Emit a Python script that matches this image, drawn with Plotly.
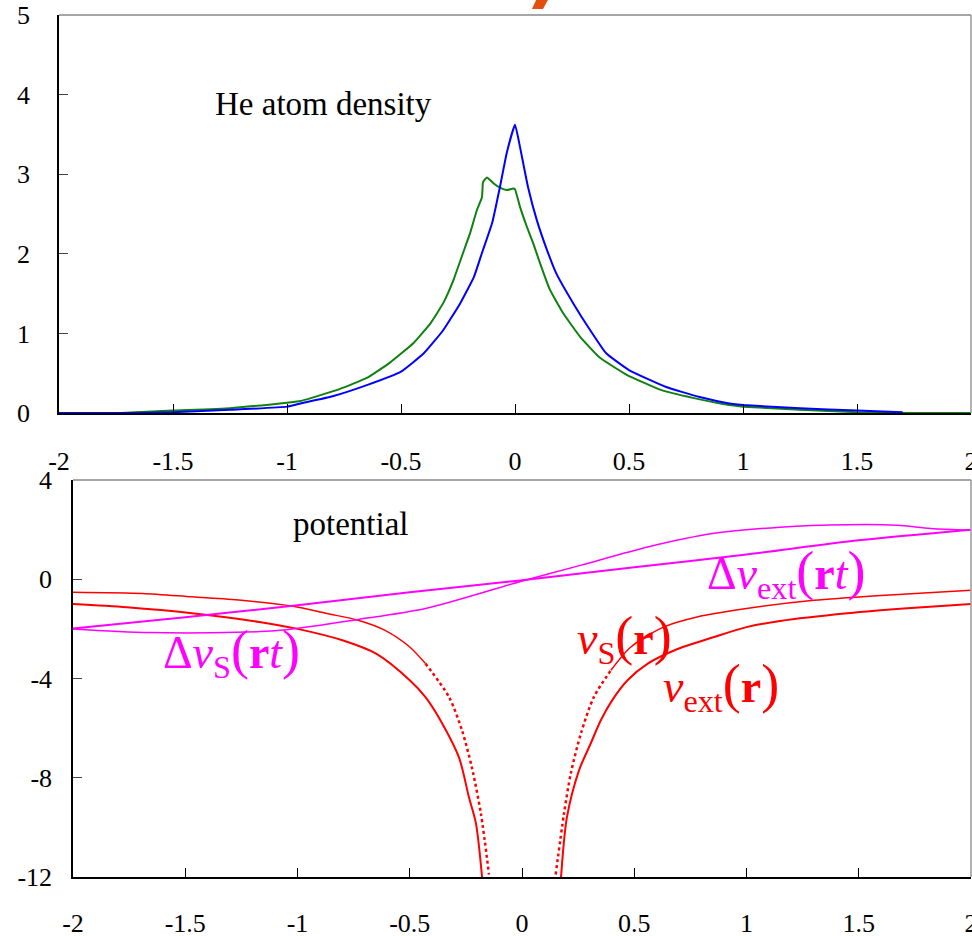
import plotly.graph_objects as go

W, H = 972, 936

# ---------------- top panel: He atom density ----------------
blue_x = [-2.0, -1.7, -1.5, -1.25, -1.0, -0.94, -0.8, -0.65, -0.5, -0.4, -0.315, -0.24, -0.18, -0.145,
          -0.1, -0.066, -0.036, 0.0, 0.022, 0.057, 0.096, 0.14, 0.18, 0.255, 0.33, 0.40, 0.50, 0.66,
          0.81, 0.94, 1.0, 1.25, 1.5, 1.7]
blue_y = [0.0, 0.0, 0.01, 0.04, 0.08, 0.12, 0.21, 0.35, 0.52, 0.75, 1.04, 1.38, 1.71, 2.01,
          2.39, 2.84, 3.27, 3.62, 3.34, 2.84, 2.42, 2.05, 1.76, 1.38, 1.04, 0.75, 0.54, 0.33,
          0.20, 0.12, 0.10, 0.06, 0.03, 0.01]

green_x = [-2.0, -1.73, -1.5, -1.25, -1.0, -0.94, -0.77, -0.65, -0.55, -0.445, -0.37, -0.315, -0.27,
           -0.228, -0.197, -0.167, -0.145, -0.14, -0.123, -0.096, -0.066, -0.036, -0.008, 0.0, 0.022,
           0.052, 0.08, 0.11, 0.153, 0.21, 0.285, 0.37, 0.49, 0.64, 0.78, 0.94, 1.0, 1.25, 1.5,
           1.75, 2.0]
green_y = [0.0, 0.0, 0.03, 0.06, 0.13, 0.15, 0.30, 0.44, 0.63, 0.88, 1.13, 1.38, 1.67,
           2.01, 2.26, 2.55, 2.71, 2.90, 2.96, 2.89, 2.83, 2.80, 2.82, 2.81, 2.59,
           2.34, 2.13, 1.88, 1.55, 1.26, 0.96, 0.70, 0.48, 0.29, 0.19, 0.10, 0.08, 0.04, 0.01,
           0.0, 0.0]

# ---------------- bottom panel: potentials ----------------
vext_left_x = [-2.0, -1.76, -1.47, -1.17, -1.0, -0.80, -0.65, -0.50, -0.43, -0.356, -0.28, -0.236, -0.205, -0.178]
vext_left_y = [-1.0, -1.13, -1.37, -1.72, -2.0, -2.46, -3.0, -4.07, -4.75, -5.8, -7.2, -8.8, -9.85, -12.0]
vext_right_x = [0.174, 0.20, 0.254, 0.307, 0.35, 0.40, 0.47, 0.56, 0.68, 0.855, 1.0, 1.15, 1.45, 1.75, 2.0]
vext_right_y = [-12.0, -9.6, -7.7, -6.6, -5.7, -4.9, -4.07, -3.4, -2.86, -2.33, -1.93, -1.68, -1.37, -1.15, -1.0]

vs_left_x = [-2.0, -1.69, -1.47, -1.25, -1.02, -0.87, -0.73, -0.61, -0.50, -0.43, -0.325, -0.267, -0.223, -0.183, -0.147]
vs_left_y = [-0.52, -0.57, -0.71, -0.85, -1.09, -1.38, -1.65, -2.06, -2.73, -3.4, -4.75, -6.1, -7.6, -9.45, -11.9]
vs_right_x = [0.15, 0.187, 0.218, 0.263, 0.32, 0.396, 0.485, 0.63, 0.78, 1.0, 1.30, 1.60, 2.0]
vs_right_y = [-11.9, -9.45, -7.8, -6.2, -4.75, -3.67, -2.73, -1.93, -1.52, -1.18, -0.85, -0.65, -0.44]

dvext_x = [-2.0, -1.5, -1.0, -0.5, 0.0, 0.5, 1.0, 1.5, 2.0]
dvext_y = [-1.98, -1.53, -1.05, -0.52, -0.04, 0.48, 1.0, 1.57, 2.0]

dvs_x = [-2.0, -1.66, -1.1, -0.73, -0.43, -0.01, 0.26, 0.56, 0.855, 1.15, 1.45, 1.67, 1.82, 2.0]
dvs_y = [-2.0, -2.15, -2.08, -1.62, -1.18, -0.1, 0.56, 1.3, 1.85, 2.1, 2.2, 2.18, 2.05, 1.98]

x_ticks = [-2, -1.5, -1, -0.5, 0, 0.5, 1, 1.5, 2]
x_tick_text = ["-2", "-1.5", "-1", "-0.5", "0", "0.5", "1", "1.5", "2"]
top_y_ticks = [0, 1, 2, 3, 4, 5]
top_y_text = ["0", "1", "2", "3", "4", "5"]
bot_y_ticks = [-12, -8, -4, 0, 4]
bot_y_text = ["-12", "-8", "-4", "0", "4"]

RED = "#FF0000"
MAG = "#FF00FF"
SERIF = "Liberation Serif, Times New Roman, serif"

fig = go.Figure()

fig.add_trace(go.Scatter(x=green_x, y=green_y, mode="lines",
                         line=dict(color="#108010", width=2, shape="spline", smoothing=0.4),
                         xaxis="x", yaxis="y", showlegend=False))
fig.add_trace(go.Scatter(x=blue_x, y=blue_y, mode="lines",
                         line=dict(color="#0000FF", width=2, shape="spline", smoothing=0.4),
                         xaxis="x", yaxis="y", showlegend=False))

# split v_S: outer part solid (noisy), inner steep part dotted
def split(xs, ys, cond):
    a = [(x, y) for x, y in zip(xs, ys) if cond(x)]
    return [p[0] for p in a], [p[1] for p in a]

vsl_out = split(vs_left_x, vs_left_y, lambda x: x <= -0.43)
vsl_in = split(vs_left_x, vs_left_y, lambda x: x >= -0.43)
vsr_in = split(vs_right_x, vs_right_y, lambda x: x <= 0.396)
vsr_out = split(vs_right_x, vs_right_y, lambda x: x >= 0.396)

SPL = dict(shape="spline", smoothing=0.8)
for xs, ys in (vsl_out, vsr_out):
    fig.add_trace(go.Scatter(x=xs, y=ys, mode="lines", line=dict(color=RED, width=1.5, **SPL),
                             xaxis="x2", yaxis="y2", showlegend=False))
for xs, ys in (vsl_in, vsr_in):
    fig.add_trace(go.Scatter(x=xs, y=ys, mode="lines", line=dict(color=RED, width=2.5, dash="dot", **SPL),
                             xaxis="x2", yaxis="y2", showlegend=False))
for xs, ys in ((vext_left_x, vext_left_y), (vext_right_x, vext_right_y)):
    fig.add_trace(go.Scatter(x=xs, y=ys, mode="lines", line=dict(color=RED, width=2, **SPL),
                             xaxis="x2", yaxis="y2", showlegend=False))
fig.add_trace(go.Scatter(x=dvs_x, y=dvs_y, mode="lines", line=dict(color=MAG, width=1.5, **SPL),
                         xaxis="x2", yaxis="y2", showlegend=False))
fig.add_trace(go.Scatter(x=dvext_x, y=dvext_y, mode="lines", line=dict(color=MAG, width=2, **SPL),
                         xaxis="x2", yaxis="y2", showlegend=False))

def px(xp):
    return xp / W

def py(yp):
    return 1 - yp / H

tickfont = dict(family=SERIF, size=26, color="black")
common_x = dict(range=[-2, 2], tickvals=x_ticks, ticktext=x_tick_text, ticks="inside", ticklen=9,
                tickcolor="black", tickwidth=1, showline=True, linecolor="black", linewidth=1.5,
                showgrid=False, zeroline=False, tickfont=tickfont, automargin=False,
                ticklabeloverflow="allow", fixedrange=True)
common_y = dict(ticks="inside", ticklen=9, tickcolor="#444", tickwidth=1, showline=True,
                linecolor="black", linewidth=1.5, showgrid=False, zeroline=False, tickfont=tickfont,
                automargin=False, ticklabeloverflow="allow", fixedrange=True)

fig.update_layout(
    width=W, height=H, margin=dict(l=0, r=0, t=0, b=0),
    paper_bgcolor="white", plot_bgcolor="white",
    xaxis=dict(domain=[px(59), px(971)], anchor="y", ticklabelstandoff=24, **common_x),
    yaxis=dict(domain=[py(413), py(15)], anchor="x", range=[0, 5], tickvals=top_y_ticks,
               ticktext=top_y_text, ticklabelstandoff=22, **common_y),
    xaxis2=dict(domain=[px(73), px(971)], anchor="y2", ticklabelstandoff=22, **common_x),
    yaxis2=dict(domain=[py(877), py(480)], anchor="x2", range=[-12, 4], tickvals=bot_y_ticks,
                ticktext=bot_y_text, ticklabelstandoff=14, **common_y),
)

# gray top/right frame edges
for xr, yr in (("x domain", "y domain"), ("x2 domain", "y2 domain")):
    fig.add_shape(type="line", xref=xr, yref=yr, x0=0, x1=1, y0=1, y1=1,
                  line=dict(color="#888888", width=1.5))
    fig.add_shape(type="line", xref=xr, yref=yr, x0=1, x1=1, y0=0, y1=1,
                  line=dict(color="#999999", width=1.5))

# orange fragment at the very top
fig.add_shape(type="path", xref="paper", yref="paper",
              path=f"M {px(537)},{py(-2)} L {px(549)},{py(-2)} L {px(543)},{py(9)} L {px(532)},{py(9)} Z",
              fillcolor="#E2500E", line=dict(width=0))

def ann(text, xp, yp, color, size, xanchor="center"):
    fig.add_annotation(x=px(xp), y=py(yp), xref="paper", yref="paper", text=text, showarrow=False,
                       xanchor=xanchor, yanchor="middle",
                       font=dict(family=SERIF, size=size, color=color))

ann("He atom density", 213, 104, "black", 33, xanchor="left")
ann("potential", 291, 524, "black", 33, xanchor="left")

P = '<span style="font-size:54px">{}</span>'
ann("Δ<i>v</i><sub>S</sub>" + P.format("(") + "<b>r</b><i>t</i>" + P.format(")"), 161, 652, MAG, 46, xanchor="left")
ann("Δ<i>v</i><sub>ext</sub>" + P.format("(") + "<b>r</b><i>t</i>" + P.format(")"), 705, 573, MAG, 46, xanchor="left")
ann("<i>v</i><sub>S</sub>" + P.format("(") + "<b>r</b>" + P.format(")"), 575, 638, RED, 46, xanchor="left")
ann("<i>v</i><sub>ext</sub>" + P.format("(") + "<b>r</b>" + P.format(")"), 661, 686, RED, 46, xanchor="left")

fig.write_html("out.html", config={"displayModeBar": False},
               post_script="document.body.style.margin='0';document.body.style.overflow='hidden';")
